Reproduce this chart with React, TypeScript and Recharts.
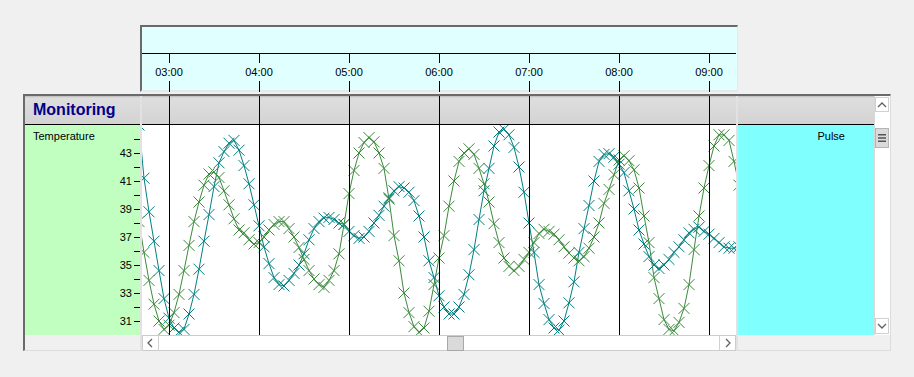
import React from 'react';
import { LineChart, Line, XAxis, YAxis } from 'recharts';

const FONT = '"Liberation Sans", Arial, sans-serif';

// one reading every 200 s, first sample at 02:40 (minutes after midnight)
const startMinute = 160;
const stepMinutes = 10 / 3;

const hourTicks = [180, 240, 300, 360, 420, 480, 540];
const tempTicks = [31, 32, 33, 34, 35, 36, 37, 38, 39, 40, 41, 42, 43, 44];

// teal trace
const pulseValues = [
  45.0, 41.2, 38.8, 36.7, 34.6, 32.6, 31.2, 30.5, 30.2, 30.4,
  31.5, 32.9, 34.7, 36.7, 38.6, 40.6, 42.3, 43.1, 43.7, 43.9,
  43.2, 42.1, 40.8, 39.3, 37.8, 36.3, 35.1, 34.1, 33.6, 33.5,
  33.9, 34.4, 35.0, 35.8, 36.8, 37.6, 38.1, 38.35, 38.4, 38.25,
  38.0, 37.9, 37.4, 37.1, 36.9, 37.0, 37.4, 38.0, 38.55, 39.2,
  39.8, 40.3, 40.6, 40.5, 40.2, 39.6, 38.5, 37.0, 35.3, 34.1,
  32.8, 32.0, 31.5, 31.5, 32.0, 32.9, 34.3, 36.1, 38.25, 40.3,
  41.9, 43.5, 44.5, 44.7, 44.3, 43.4, 42.0, 40.2, 38.0, 35.9,
  33.6, 32.25, 31.1, 30.5, 30.35, 31.0, 32.3, 33.8, 35.9, 37.6,
  39.25, 41.0, 42.4, 42.9, 42.95, 42.7, 42.2, 41.6, 40.3, 39.0,
  37.5, 36.5, 35.6, 35.0, 34.75, 35.0, 35.4, 35.9, 36.3, 36.8,
  37.3, 37.55, 37.7, 37.4, 37.2, 36.9, 36.6, 36.3, 36.2, 36.2,
  36.3,
];

// green trace
const temperatureValues = [
  38.1, 35.9, 33.9, 32.2, 31.0, 30.4, 30.7, 31.6, 32.9, 34.6,
  36.4, 38.1, 39.5, 40.7, 41.5, 41.65, 41.25, 40.3, 39.3, 38.3,
  37.5, 37.3, 36.8, 36.5, 36.6, 37.0, 37.5, 37.9, 38.1, 38.1,
  37.6, 37.0, 36.25, 35.4, 34.6, 34.0, 33.6, 33.4, 33.9, 34.6,
  35.8, 37.9, 40.1, 41.75, 43.0, 43.75, 44.1, 43.8, 43.0, 41.9,
  39.7, 37.1, 35.3, 33.0, 31.6, 30.6, 30.2, 30.5, 31.7, 33.6,
  35.5, 37.1, 39.2, 41.0, 42.4, 43.0, 43.3, 42.9, 41.9, 40.8,
  39.5, 37.95, 36.6, 35.5, 34.9, 34.6, 34.9, 35.4, 35.9, 36.6,
  37.25, 37.55, 37.4, 37.2, 36.8, 36.3, 35.85, 35.5, 35.3, 35.6,
  36.2, 37.0, 38.0, 39.4, 40.4, 41.45, 42.5, 42.8, 42.45, 41.8,
  40.5, 38.5, 36.6, 34.1, 32.6, 31.1, 30.4, 30.3, 30.9, 31.9,
  33.6, 36.1, 38.5, 40.5, 42.1, 43.5, 44.3, 44.3, 43.9, 42.4,
  40.7,
];

const data = pulseValues.map((v, i) => ({
  t: startMinute + i * stepMinutes,
  pulse: v,
  temperature: temperatureValues[i],
}));

const fmtHour = (m: number) => `${String(Math.floor(m / 60)).padStart(2, '0')}:00`;

const HourTick = (props: any) => {
  const { x, payload } = props;
  return (
    <g>
      <line x1={x} x2={x} y1={53} y2={63} stroke="#000" shapeRendering="crispEdges" />
      <text x={x} y={76} textAnchor="middle" fontSize={11} fontFamily={FONT} fill="#000">
        {fmtHour(payload.value)}
      </text>
      <line x1={x} x2={x} y1={81} y2={92} stroke="#000" shapeRendering="crispEdges" />
      <line x1={x} x2={x} y1={96} y2={335} stroke="#000" shapeRendering="crispEdges" />
    </g>
  );
};

const TempTick = (props: any) => {
  const { y, payload } = props;
  const v = payload.value;
  return (
    <g>
      <line x1={134} x2={140} y1={y} y2={y} stroke="#000" shapeRendering="crispEdges" />
      {v % 2 === 1 && (
        <text x={132} y={y + 4} textAnchor="end" fontSize={11} fontFamily={FONT} fill="#000">
          {v}
        </text>
      )}
    </g>
  );
};

const crossDot = (color: string) => (p: any) => {
  const { cx, cy, index, dataKey } = p;
  if (cx == null || cy == null) return <g key={`${dataKey}-${index}`} />;
  const r = 5.5;
  return (
    <g key={`${dataKey}-${index}`}>
      <line x1={cx - r} y1={cy - r} x2={cx + r} y2={cy + r} stroke={color} strokeWidth={1} />
      <line x1={cx - r} y1={cy + r} x2={cx + r} y2={cy - r} stroke={color} strokeWidth={1} />
    </g>
  );
};

const box = (s: React.CSSProperties): React.CSSProperties => ({ position: 'absolute', boxSizing: 'border-box', ...s });

const Chevron = ({ dir }: { dir: 'up' | 'down' | 'left' | 'right' }) => {
  const pts = {
    up: '1,5 5,1 9,5',
    down: '1,1 5,5 9,1',
    left: '5,1 1,5 5,9',
    right: '1,1 5,5 1,9',
  }[dir];
  const w = dir === 'up' || dir === 'down' ? 10 : 6;
  const h = dir === 'up' || dir === 'down' ? 6 : 10;
  return (
    <svg width={w} height={h} style={{ display: 'block' }}>
      <polyline points={pts} fill="none" stroke="#606060" strokeWidth={1.3} />
    </svg>
  );
};

const center: React.CSSProperties = { display: 'flex', alignItems: 'center', justifyContent: 'center' };

export default function App() {
  return (
    <div style={box({ left: 0, top: 0, width: 914, height: 377, background: '#f0f0f0', overflow: 'hidden', fontFamily: FONT })}>
      {/* time ruler */}
      <div style={box({ left: 140, top: 25, width: 598, height: 67, background: '#e0ffff', borderTop: '2px solid #6a6a6a', borderLeft: '2px solid #6a6a6a', borderBottom: '2px solid #e8e8e8', borderRight: '1px solid #e8e8e8' })} />
      <div style={box({ left: 142, top: 53, width: 594, height: 1, background: '#000' })} />

      {/* main panel */}
      <div style={box({ left: 23, top: 94, width: 868, height: 257, borderTop: '2px solid #6a6a6a', borderLeft: '2px solid #6a6a6a', borderRight: '1px solid #dcdcdc', borderBottom: '1px solid #dcdcdc' })} />
      <div style={box({ left: 25, top: 96, width: 849, height: 28, background: 'linear-gradient(to bottom, #bcbcbc 0px, #dedede 2px, #d3d3d3 100%)' })} />
      <div style={box({ left: 33, top: 102, fontSize: 16, lineHeight: '16px', fontWeight: 'bold', color: '#00008b' })}>Monitoring</div>
      <div style={box({ left: 25, top: 124, width: 849, height: 1, background: '#000' })} />
      <div style={box({ left: 25, top: 125, width: 115, height: 210, background: '#c0ffc0' })} />
      <div style={box({ left: 142, top: 125, width: 594, height: 210, background: '#ffffff' })} />
      <div style={box({ left: 738, top: 125, width: 136, height: 210, background: '#80ffff' })} />
      <div style={box({ left: 140, top: 96, width: 2, height: 255, background: '#e2e2e2' })} />
      <div style={box({ left: 736, top: 96, width: 2, height: 255, background: '#e2e2e2' })} />
      <div style={box({ left: 33, top: 131, fontSize: 11, lineHeight: '11px', color: '#000' })}>Temperature</div>
      <div style={box({ left: 745, width: 100, top: 131, fontSize: 11, lineHeight: '11px', color: '#000', textAlign: 'right' })}>Pulse</div>

      {/* vertical scrollbar */}
      <div style={box({ left: 874, top: 96, width: 16, height: 239, background: '#ffffff', borderLeft: '1px solid #d8d8d8' })} />
      <div style={box({ left: 875, top: 97, width: 14, height: 15, border: '1px solid #d0d0d0', background: '#fff', ...center })}><Chevron dir="up" /></div>
      <div style={box({ left: 875, top: 128, width: 14, height: 20, border: '1px solid #b4b4b4', background: '#dadada', ...center })}>
        <svg width={8} height={8} style={{ display: 'block' }}>
          <rect x={0} y={0} width={8} height={1.5} fill="#555" />
          <rect x={0} y={3.25} width={8} height={1.5} fill="#555" />
          <rect x={0} y={6.5} width={8} height={1.5} fill="#555" />
        </svg>
      </div>
      <div style={box({ left: 875, top: 318, width: 14, height: 16, border: '1px solid #d0d0d0', background: '#fff', ...center })}><Chevron dir="down" /></div>

      {/* horizontal scrollbar */}
      <div style={box({ left: 142, top: 335, width: 594, height: 16, background: '#ffffff', border: '1px solid #cccccc' })} />
      <div style={box({ left: 142, top: 335, width: 17, height: 16, borderRight: '1px solid #d0d0d0', ...center })}><Chevron dir="left" /></div>
      <div style={box({ left: 447, top: 336, width: 17, height: 15, border: '1px solid #a8a8a8', background: '#dadada' })} />
      <div style={box({ left: 719, top: 335, width: 17, height: 16, borderLeft: '1px solid #d0d0d0', ...center })}><Chevron dir="right" /></div>

      <div style={{ position: 'absolute', left: 0, top: 0 }}>
        <LineChart width={914} height={377} data={data} margin={{ top: 25, right: 178, bottom: 42, left: 25 }}>
          <XAxis
            dataKey="t"
            type="number"
            orientation="top"
            height={100}
            domain={[162, 558]}
            allowDataOverflow
            ticks={hourTicks}
            interval={0}
            axisLine={false}
            tickLine={false}
            tick={HourTick}
          />
          <YAxis
            type="number"
            width={117}
            domain={[30, 45]}
            allowDataOverflow
            ticks={tempTicks}
            interval={0}
            axisLine={false}
            tickLine={false}
            tick={TempTick}
          />
          <Line type="linear" dataKey="pulse" stroke="#008080" strokeWidth={1} dot={crossDot('#008080')} activeDot={false} isAnimationActive={false} />
          <Line type="linear" dataKey="temperature" stroke="#3c8a3c" strokeWidth={1} dot={crossDot('#3c8a3c')} activeDot={false} isAnimationActive={false} />
        </LineChart>
      </div>
    </div>
  );
}
